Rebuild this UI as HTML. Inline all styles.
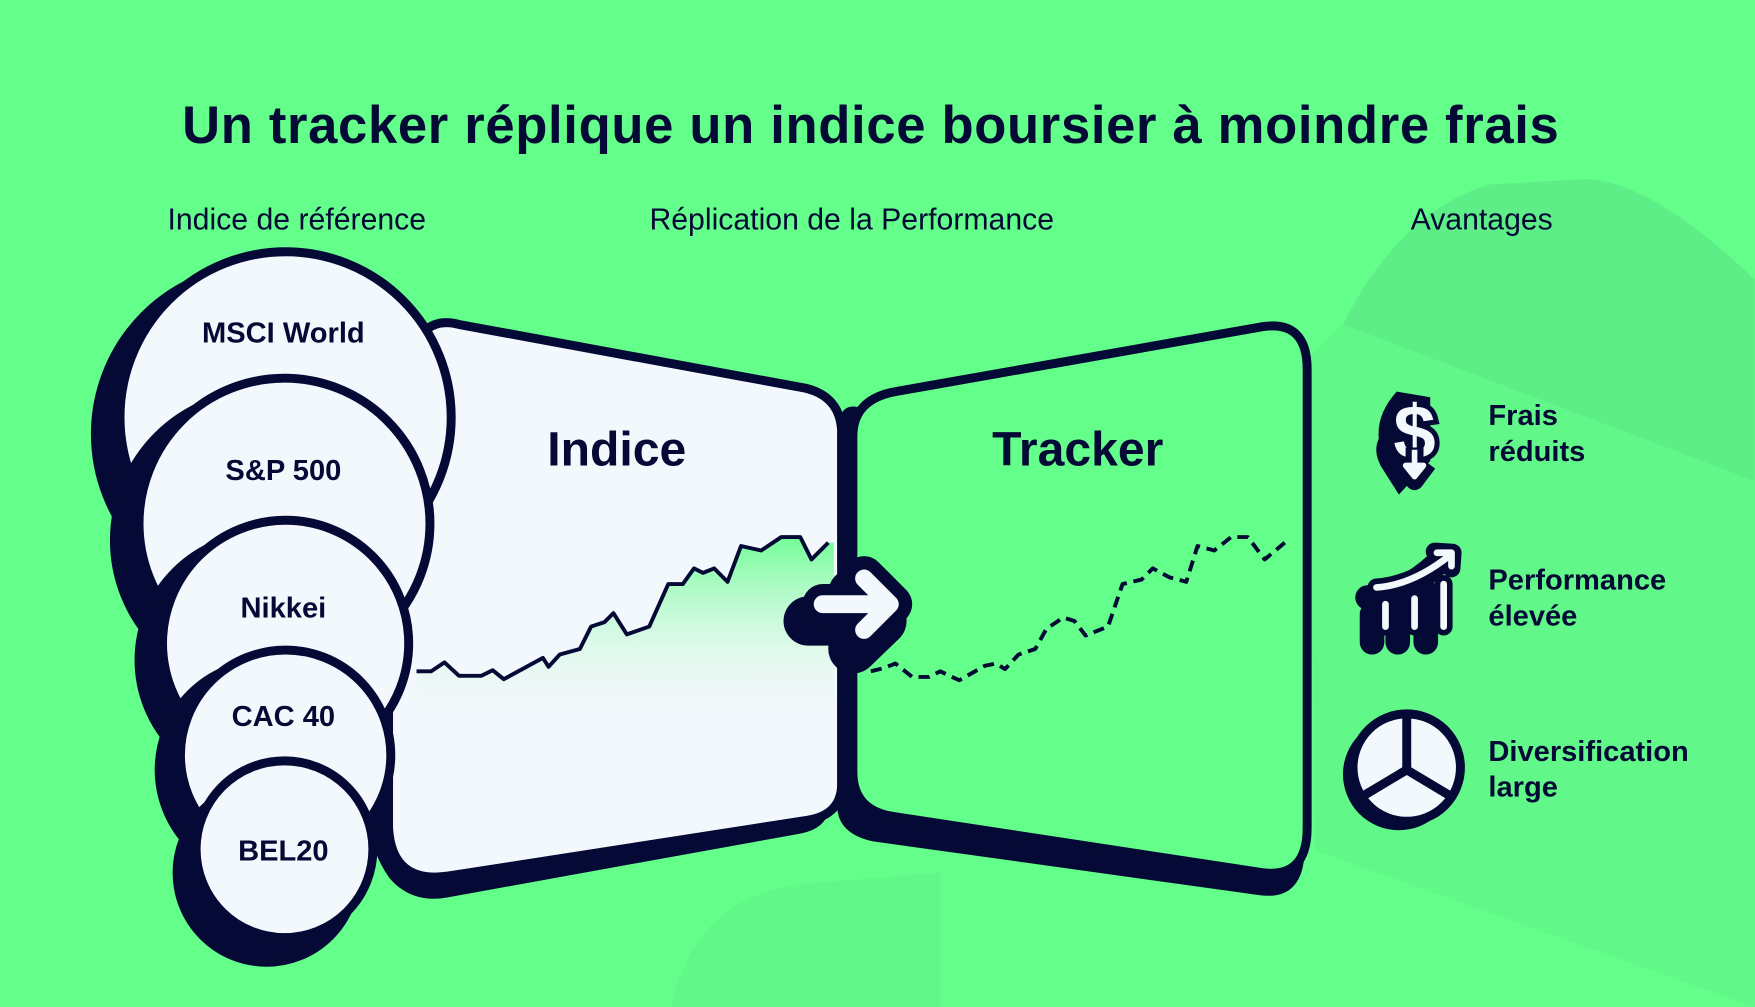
<!DOCTYPE html>
<html><head><meta charset="utf-8"><style>
html,body{margin:0;padding:0;background:#64fe8a;}
svg{display:block}
text{font-family:"Liberation Sans",sans-serif;fill:#050935}
</style></head><body>
<svg width="1755" height="1007" viewBox="0 0 1568 900" xmlns="http://www.w3.org/2000/svg">
<defs>
<linearGradient id="g" x1="0" y1="0" x2="0" y2="1">
<stop offset="0" stop-color="#64fe8a" stop-opacity="0.9"/>
<stop offset="1" stop-color="#f3f8fc" stop-opacity="0"/>
</linearGradient>
</defs>
<rect width="1568" height="900" fill="#64fe8a"/>
<path d="M1200 290 Q1250 190 1330 165 L1420 160 Q1480 165 1568 250 L1568 430 Z" fill="#5eee87"/>
<path d="M1200 290 L1568 430 L1568 900 L1175 760 L1170 320 Z" fill="#61f789"/>
<path d="M600 900 Q620 800 720 790 L840 780 L840 900 Z" fill="#61f789"/>

<text x="778" y="128" font-size="47" font-weight="bold" text-anchor="middle" letter-spacing="0.6">Un tracker réplique un indice boursier à moindre frais</text>
<text x="265" y="205" font-size="27" text-anchor="middle">Indice de référence</text>
<text x="761" y="205" font-size="27" text-anchor="middle">Réplication de la Performance</text>
<text x="1324" y="205" font-size="27" text-anchor="middle">Avantages</text>

<path d="M368 308 Q380 282 410 288 L715 345 Q742 352 742 385 L742 715 Q742 740 715 745 L400 802 Q368 808 348 785 Q330 760 330 730 L330 330 Z" fill="#050935"/>
<path d="M380 295 Q392 285 410 290 L720 347 Q752 355 752 388 L752 700 Q752 728 722 733 L400 783 Q350 790 347 740 L347 330 Z" fill="#f3f8fc" stroke="#050935" stroke-width="8"/>
<path d="M780 370 Q748 350 748 390 L748 720 Q748 745 780 752 L1125 800 Q1160 805 1165 770 L1165 340 Q1160 300 1125 300 Z" fill="#050935"/>
<path d="M800 350 L1128 292 Q1168 286 1168 330 L1168 740 Q1168 785 1128 780 L800 730 Q762 725 762 690 L762 390 Q762 357 800 350 Z" fill="#64fe8a" stroke="#050935" stroke-width="8"/>

<path d="M372 600 L385 600 L397 592 L410 604 L430 604 L440 599 L450 607 L485 588 L490 596 L500 585 L518 580 L528 560 L540 556 L548 548 L560 567 L580 560 L597 522 L610 522 L620 508 L628 512 L638 508 L650 520 L662 488 L680 492 L698 480 L715 480 L725 500 L740 485 L745 485 L745 650 L372 650 Z" fill="url(#g)"/>
<polyline points="372,600 385,600 397,592 410,604 430,604 440,599 450,607 485,588 490,596 500,585 518,580 528,560 540,556 548,548 560,567 580,560 597,522 610,522 620,508 628,512 638,508 650,520 662,488 680,492 698,480 715,480 725,500 740,485" fill="none" stroke="#050935" stroke-width="3.5" stroke-linejoin="round"/>
<polyline points="778,600 790,597 800,593 815,605 830,605 840,600 857,608 880,595 890,593 898,598 910,585 925,580 935,562 950,552 960,555 970,568 990,560 1003,522 1020,518 1030,508 1045,516 1060,520 1070,488 1085,492 1100,480 1115,480 1130,500 1148,485" fill="none" stroke="#050935" stroke-width="3.5" stroke-dasharray="10 6" stroke-linejoin="round"/>

<text x="551" y="416" font-size="43" font-weight="bold" text-anchor="middle">Indice</text>
<text x="963" y="416" font-size="43" font-weight="bold" text-anchor="middle">Tracker</text>

<!-- arrow -->
<path d="M722 555 L780 555 M762 530 L788 555 L762 580" fill="none" stroke="#050935" stroke-width="44" stroke-linejoin="round" stroke-linecap="round"/>
<path d="M735 540 L793 540 M772 515 L797 540 L772 565" fill="none" stroke="#050935" stroke-width="36" stroke-linejoin="round" stroke-linecap="round"/>
<path d="M735 540 L793 540 M772 517 L795 540 L772 563" fill="none" stroke="#f3f8fc" stroke-width="16" stroke-linejoin="round" stroke-linecap="round"/>

<g stroke="#050935" stroke-width="8">
<circle cx="235" cy="388" r="150" fill="#050935"/>
<circle cx="255" cy="373" r="148" fill="#f3f8fc"/>
<circle cx="234" cy="483" r="132" fill="#050935"/>
<circle cx="254" cy="468" r="130" fill="#f3f8fc"/>
<circle cx="236" cy="590" r="112" fill="#050935"/>
<circle cx="255" cy="575" r="110" fill="#f3f8fc"/>
<circle cx="238" cy="688" r="96" fill="#050935"/>
<circle cx="255" cy="675" r="94" fill="#f3f8fc"/>
<circle cx="238" cy="780" r="80" fill="#050935"/>
<circle cx="254" cy="759" r="79" fill="#f3f8fc"/>
</g>
<g font-size="26" font-weight="bold" text-anchor="middle">
<text x="253" y="306">MSCI World</text>
<text x="253" y="429">S&amp;P 500</text>
<text x="253" y="552">Nikkei</text>
<text x="253" y="649">CAC 40</text>
<text x="253" y="769">BEL20</text>
</g>

<!-- dollar icon -->
<g>
<path d="M1248 350 Q1230 370 1232 392 Q1226 405 1236 420 L1250 442 L1278 412 L1278 355 Z" fill="#050935"/>
<text x="1264" y="410" font-size="68" font-weight="bold" text-anchor="middle" style="fill:#f3f8fc;stroke:#050935;stroke-width:9;paint-order:stroke">$</text>
<path d="M1264 400 L1264 420 M1252 414 L1264 430 L1276 414" fill="none" stroke="#050935" stroke-width="16" stroke-linejoin="round"/>
<path d="M1264 402 L1264 420 M1256 416 L1264 426 L1272 416 Z" fill="#f3f8fc" stroke="#f3f8fc" stroke-width="5" stroke-linejoin="round"/>
</g>
<g stroke-linecap="round" stroke-linejoin="round" fill="none">
<path d="M1228 530 Q1260 528 1290 500 M1232 545 L1232 570 M1255 540 L1255 570 M1280 525 L1280 570" stroke="#050935" stroke-width="22" transform="translate(-6,4)"/>
<path d="M1230 525 Q1262 523 1296 496 M1282 493 L1298 494 L1297 508 M1238 540 L1238 560 M1264 535 L1264 560 M1290 522 L1290 560" stroke="#050935" stroke-width="16"/>
<path d="M1230 525 Q1262 523 1296 496 M1284 494 L1297 494 L1297 506 M1238 540 L1238 560 M1264 535 L1264 560 M1290 522 L1290 560" stroke="#f3f8fc" stroke-width="6"/>
</g>
<circle cx="1250" cy="692" r="50" fill="#050935"/>
<circle cx="1257" cy="686" r="48" fill="#f3f8fc" stroke="#050935" stroke-width="8"/>
<path d="M1257 640 L1257 688 L1217 712 M1257 688 L1297 712" fill="none" stroke="#050935" stroke-width="8"/>

<g font-size="26" font-weight="bold">
<text x="1330" y="380">Frais</text>
<text x="1330" y="412">réduits</text>
<text x="1330" y="527">Performance</text>
<text x="1330" y="559">élevée</text>
<text x="1330" y="680">Diversification</text>
<text x="1330" y="712">large</text>
</g>
</svg>
</body></html>
